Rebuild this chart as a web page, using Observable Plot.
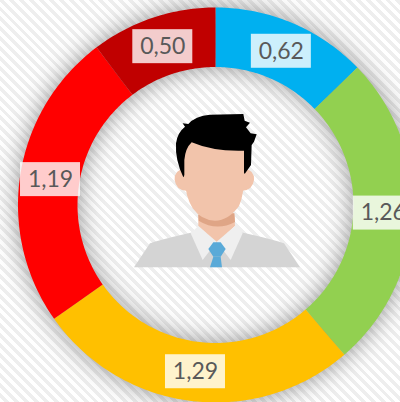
<!DOCTYPE html>
<html>
<head>
<meta charset="utf-8">
<script src="https://cdn.jsdelivr.net/npm/d3@7"></script>
<script src="https://cdn.jsdelivr.net/npm/@observablehq/plot@0.6"></script>
<style>
html,body{margin:0;padding:0;background:#fff}
svg g[aria-label="area"]{filter:drop-shadow(0 0 12px rgba(0,0,0,.42))}
</style>
</head>
<body>
<div id="chart"></div>
<script>
const values = [0.62, 1.26, 1.29, 1.19, 0.50];
const valueLabels = ["0,62", "1,26", "1,29", "1,19", "0,50"];
const colors = ["#00b0f0", "#92d050", "#ffc000", "#ff0000", "#c00000"];

const outerR = 197.5, innerR = 138, labelR = 167.5;
const pie = d3.pie().sort(null)(values);
const px = (r, a) => r * Math.sin(a);
const py = (r, a) => -r * Math.cos(a);

const slicePoints = pie.flatMap((s, i) => {
  const n = Math.ceil((s.endAngle - s.startAngle) * 60);
  return d3.range(n + 1).map(k => {
    const a = s.startAngle + (s.endAngle - s.startAngle) * k / n;
    return {color: colors[i], xo: px(outerR, a), yo: py(outerR, a), xi: px(innerR, a), yi: py(innerR, a)};
  });
});
const labelRows = pie.map((s, i) => {
  const a = (s.startAngle + s.endAngle) / 2;
  return {label: valueLabels[i], x: px(labelR, a), y: py(labelR, a)};
});

function person(index, {x, y}) {
  const g = d3.create("svg:g")
    .attr("transform", `translate(${x(0) - 95.5},${y(0) - 105}) scale(${1/3})`);
  const shapes = [
    ["#d4d4d4", "M42,502 L90,430 Q95,425 212,398 L370,398 Q487,425 492,430 L540,502 Z"],
    ["#f2c4ab", "M235,340 L235,378 L290,428 L345,378 L343,340 Z"],
    ["#dfa586", "M235,345 L236,362 Q290,395 345,366 L343,340 Z"],
    ["#efefef", "M235,378 L212,400 L248,480 L290,425 Z"],
    ["#efefef", "M345,378 L368,400 L332,480 L290,425 Z"],
    ["#5aaad8", "M265,447 L280,427 L302,427 L317,447 L302,470 L280,470 Z"],
    ["#5aaad8", "M280,470 L302,470 L306,502 L270,502 Z"],
    ["#f2c4ab", "M215,205 L190,208 Q163,210 164,240 Q168,270 198,272 L215,272 Z"],
    ["#f2c4ab", "M355,205 L376,208 Q403,210 402,240 Q398,270 368,272 L355,272 Z"],
    ["#000", "M190,232 Q165,180 168,130 Q172,98 195,80 L188,70 L205,72 Q225,48 270,44 L370,42 L374,62 L390,68 L378,82 L392,100 L410,103 L402,125 L395,135 L393,195 L374,222 L350,170 L215,140 L210,200 Z"],
    ["#f2c4ab", "M193,180 Q196,145 215,127 Q280,155 372,152 L372,230 Q372,285 357,318 Q325,362 285,362 Q245,362 218,325 Q196,290 193,232 Z"]
  ];
  for (const [fill, d] of shapes) g.append("path").attr("fill", fill).attr("d", d);
  return g.node();
}

const plot = Plot.plot({
  width: 400,
  height: 402,
  margin: 0,
  x: {domain: [-215.5, 184.5], range: [0, 400], axis: null},
  y: {domain: [-205, 197], range: [0, 402], axis: null},
  style: {
    background: "repeating-linear-gradient(45deg,#ffffff 0 3.5px,#eeeeee 3.5px 7px)",
    fontFamily: "Lato",
    overflow: "hidden"
  },
  marks: [
    Plot.area(slicePoints, {x1: "xo", y1: "yo", x2: "xi", y2: "yi", fill: "color", z: "color", curve: "linear"}),
    person,
    Plot.rect(labelRows, {
      x1: d => d.x - 30, x2: d => d.x + 30,
      y1: d => d.y - 17, y2: d => d.y + 17,
      fill: "#fff", fillOpacity: 0.8
    }),
    Plot.text(labelRows, {x: "x", y: "y", text: "label", fill: "#595959", fontSize: 23, fontFamily: "Lato"})
  ]
});
document.getElementById("chart").appendChild(plot);
</script>
</body>
</html>
